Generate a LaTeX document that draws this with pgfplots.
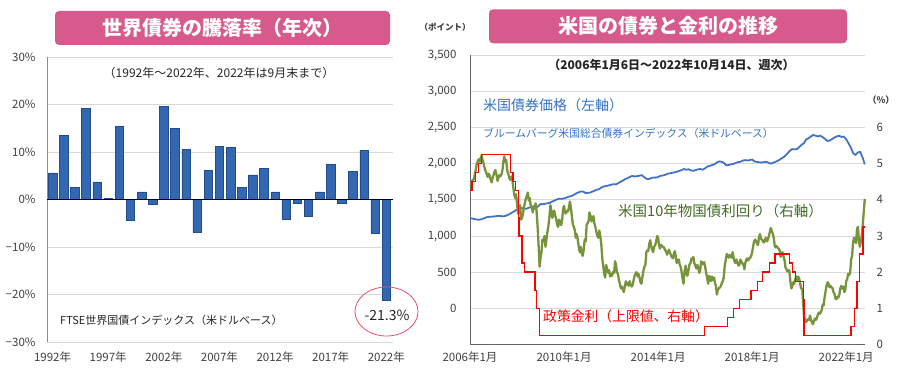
\documentclass[border=0pt]{standalone}
\usepackage{pgfplots}
\pgfplotsset{compat=1.18}
\usepackage{fontspec}
\setmainfont{Noto Sans CJK JP}
\definecolor{pinkc}{HTML}{D65A8C}
\definecolor{gridc}{HTML}{D9D9D9}
\definecolor{bardark}{HTML}{234D8A}
\definecolor{barfill}{HTML}{3467B2}
\definecolor{blueline}{HTML}{4472C4}
\definecolor{bluetext}{HTML}{3572C4}
\definecolor{greenl}{HTML}{77933C}
\definecolor{greentext}{HTML}{436B24}
\definecolor{redl}{HTML}{FF0000}
\definecolor{ellc}{HTML}{E8506A}
\definecolor{tickc}{HTML}{404040}
\begin{document}
\begin{tikzpicture}[x=1bp,y=1bp]
\useasboundingbox (0bp,0bp) rectangle (900bp,380bp);
% title boxes
\fill[pinkc, rounded corners=4bp] (55bp,335bp) rectangle (390bp,369bp);
\node[text=white, font=\fontsize{20bp}{24bp}\selectfont\bfseries] at (222.5bp,352bp) {世界債券の騰落率（年次）};
\fill[pinkc, rounded corners=4bp] (489bp,336.7bp) rectangle (847bp,370.7bp);
\node[text=white, font=\fontsize{20bp}{24bp}\selectfont\bfseries] at (668bp,353.7bp) {米国の債券と金利の推移};

% ---------- left chart ----------
\begin{axis}[at={(47bp,38bp)}, anchor=south west, scale only axis,
  width=346bp, height=285bp,
  xmin=1991.5, xmax=2022.6, ymin=-30, ymax=30,
  axis lines=left, axis line style={-},
  x axis line style={draw=gridc, line width=0.8pt},
  y axis line style={draw=black!45, line width=0.8pt},
  ytick={-30,-20,...,30},
  yticklabels={−30\%,−20\%,−10\%,0\%,10\%,20\%,30\%},
  xtick={1992,1997,2002,2007,2012,2017,2022},
  xticklabels={1992年,1997年,2002年,2007年,2012年,2017年,2022年},
  ymajorgrids, grid style={gridc, line width=0.8pt},
  major tick length=0,
  tick label style={font=\fontsize{11.5bp}{13bp}\selectfont, text=tickc},
  yticklabel style={xshift=-8bp},
  xticklabel style={yshift=-6bp},
  clip=false]
\addplot[ybar, bar width=8.5bp, draw=bardark, line width=0.6pt, fill=barfill]
coordinates {
(1992,5.6) (1993,13.5) (1994,2.5) (1995,19.2) (1996,3.7) (1997,0.2)
(1998,15.4) (1999,-4.4) (2000,1.6) (2001,-1.1) (2002,19.6) (2003,15.0)
(2004,10.5) (2005,-6.9) (2006,6.2) (2007,11.1) (2008,10.9) (2009,2.6)
(2010,5.2) (2011,6.5) (2012,1.6) (2013,-4.1) (2014,-0.8) (2015,-3.6)
(2016,1.6) (2017,7.4) (2018,-0.8) (2019,5.9) (2020,10.4) (2021,-7.1)
(2022,-21.3)};
\draw[black, line width=1.3pt] (axis cs:1991.5,0) -- (axis cs:2022.6,0);
\end{axis}
\node[font=\fontsize{12bp}{14bp}\selectfont, text=black!85] at (219bp,307.3bp) {（1992年～2022年、2022年は9月末まで）};
\node[anchor=west, font=\fontsize{11bp}{13bp}\selectfont, text=black!85, inner sep=0] at (60bp,59.3bp) {FTSE世界国債インデックス（米ドルベース）};
\draw[ellc, line width=0.8pt] (386.5bp,68.5bp) ellipse [x radius=31.5bp, y radius=24.5bp];
\node[font=\fontsize{14bp}{16bp}\selectfont, text=black!85] at (387bp,65bp) {-21.3\%};

% ---------- right chart: left axis ----------
\begin{axis}[at={(470bp,35.5bp)}, anchor=south west, scale only axis,
  width=395bp, height=289.5bp,
  xmin=2006, xmax=2022.8, ymin=-500, ymax=3500,
  axis lines=left, axis line style={-, draw=black!60, line width=0.8pt},
  ytick={0,500,1000,1500,2000,2500,3000,3500},
  yticklabels={0,500,{1,000},{1,500},{2,000},{2,500},{3,000},{3,500}},
  xtick={2006,2010,2014,2018,2022},
  xticklabels={2006年1月,2010年1月,2014年1月,2018年1月,2022年1月},
  ymajorgrids, grid style={gridc, line width=0.8pt},
  major tick length=0,
  tick label style={font=\fontsize{11.5bp}{13bp}\selectfont, text=tickc},
  yticklabel style={xshift=-10bp},
  xticklabel style={yshift=-3.5bp},
  clip=false]
\addplot[blueline, line width=1.8pt] coordinates {
(2006.0,1247) (2006.1,1240) (2006.2,1232) (2006.3,1226) (2006.4,1224) (2006.5,1232)
(2006.6,1245) (2006.7,1258) (2006.8,1264) (2006.9,1266) (2007.0,1268) (2007.1,1272)
(2007.2,1278) (2007.3,1275) (2007.4,1270) (2007.5,1276) (2007.6,1290) (2007.7,1305)
(2007.8,1325) (2007.9,1345) (2008.0,1365) (2008.1,1378) (2008.2,1385) (2008.3,1380)
(2008.4,1375) (2008.5,1390) (2008.6,1398) (2008.7,1392) (2008.8,1385) (2008.9,1410)
(2009.0,1440) (2009.1,1438) (2009.2,1445) (2009.3,1452) (2009.4,1458) (2009.5,1475)
(2009.6,1490) (2009.7,1505) (2009.8,1515) (2009.9,1512) (2010.0,1518) (2010.1,1530)
(2010.2,1543) (2010.3,1550) (2010.4,1565) (2010.5,1585) (2010.6,1600) (2010.7,1612)
(2010.8,1615) (2010.9,1595) (2011.0,1595) (2011.1,1598) (2011.2,1612) (2011.3,1625)
(2011.4,1640) (2011.5,1648) (2011.6,1672) (2011.7,1685) (2011.8,1690) (2011.9,1698)
(2012.0,1708) (2012.1,1715) (2012.2,1712) (2012.3,1728) (2012.4,1748) (2012.5,1765)
(2012.6,1785) (2012.7,1800) (2012.8,1815) (2012.9,1830) (2013.0,1822) (2013.1,1825)
(2013.2,1832) (2013.3,1840) (2013.4,1815) (2013.5,1790) (2013.6,1785) (2013.7,1798)
(2013.8,1808) (2013.9,1805) (2014.0,1815) (2014.1,1830) (2014.2,1835) (2014.3,1845)
(2014.4,1858) (2014.5,1865) (2014.6,1872) (2014.7,1878) (2014.8,1888) (2014.9,1898)
(2015.0,1910) (2015.1,1925) (2015.2,1915) (2015.3,1922) (2015.4,1905) (2015.5,1900)
(2015.6,1910) (2015.7,1920) (2015.8,1925) (2015.9,1915) (2016.0,1935) (2016.1,1960)
(2016.2,1968) (2016.3,1980) (2016.4,1990) (2016.5,2015) (2016.6,2030) (2016.7,2025)
(2016.8,2010) (2016.9,1975) (2017.0,1980) (2017.1,1988) (2017.2,1995) (2017.3,2008)
(2017.4,2020) (2017.5,2025) (2017.6,2040) (2017.7,2048) (2017.8,2042) (2017.9,2048)
(2018.0,2055) (2018.1,2030) (2018.2,2022) (2018.3,2018) (2018.4,2015) (2018.5,2020)
(2018.6,2025) (2018.7,2010) (2018.8,2000) (2018.9,2012) (2019.0,2025) (2019.1,2040)
(2019.2,2060) (2019.3,2080) (2019.4,2105) (2019.5,2140) (2019.6,2175) (2019.7,2200)
(2019.8,2195) (2019.9,2200) (2020.0,2225) (2020.1,2260) (2020.2,2280) (2020.3,2335)
(2020.4,2350) (2020.5,2375) (2020.6,2395) (2020.7,2385) (2020.8,2375) (2020.9,2385)
(2021.0,2365) (2021.1,2340) (2021.2,2312) (2021.3,2318) (2021.4,2338) (2021.5,2360)
(2021.6,2375) (2021.7,2385) (2021.8,2368) (2021.9,2372) (2022.0,2335) (2022.1,2280)
(2022.2,2220) (2022.3,2140) (2022.4,2120) (2022.5,2155) (2022.6,2160) (2022.7,2080)
(2022.79,1990)};
\end{axis}

% ---------- right chart: right axis ----------
\begin{axis}[at={(470bp,35.5bp)}, anchor=south west, scale only axis,
  width=395bp, height=289.5bp,
  xmin=2006, xmax=2022.8, ymin=0, ymax=8,
  axis y line*=right, axis x line=none,
  y axis line style={draw=none},
  ytick={0,1,2,3,4,5,6},
  yticklabels={0,1,2,3,4,5,6},
  major tick length=0,
  tick label style={font=\fontsize{11.5bp}{13bp}\selectfont, text=tickc},
  yticklabel style={xshift=8bp},
  clip=false]
\addplot[greenl, line width=2.3pt, line join=round] coordinates {
(2006.00,4.38) (2006.04,4.40) (2006.08,4.52) (2006.13,4.55) (2006.17,4.58) (2006.21,4.72)
(2006.25,4.85) (2006.29,5.00) (2006.33,5.07) (2006.38,5.12) (2006.42,5.05) (2006.46,5.15)
(2006.50,5.22) (2006.54,5.08) (2006.58,5.00) (2006.63,4.85) (2006.67,4.78) (2006.71,4.72)
(2006.75,4.63) (2006.79,4.72) (2006.83,4.68) (2006.88,4.55) (2006.92,4.48) (2006.96,4.60)
(2007.00,4.68) (2007.04,4.78) (2007.08,4.82) (2007.13,4.68) (2007.17,4.52) (2007.21,4.60)
(2007.25,4.68) (2007.29,4.65) (2007.33,4.68) (2007.38,4.82) (2007.42,5.05) (2007.46,5.20)
(2007.50,5.05) (2007.54,5.10) (2007.58,4.82) (2007.63,4.72) (2007.67,4.60) (2007.71,4.55)
(2007.75,4.62) (2007.79,4.65) (2007.83,4.40) (2007.88,4.15) (2007.92,4.05) (2007.96,4.15)
(2008.00,3.90) (2008.04,3.62) (2008.08,3.72) (2008.13,3.85) (2008.17,3.45) (2008.21,3.50)
(2008.25,3.60) (2008.29,3.78) (2008.33,3.90) (2008.38,4.05) (2008.42,4.10) (2008.46,4.20)
(2008.50,3.98) (2008.54,4.05) (2008.58,3.85) (2008.63,3.78) (2008.67,3.65) (2008.71,3.82)
(2008.75,3.75) (2008.79,3.90) (2008.83,3.70) (2008.88,3.20) (2008.92,2.70) (2008.96,2.15)
(2009.00,2.40) (2009.04,2.55) (2009.08,2.90) (2009.13,2.85) (2009.17,3.00) (2009.21,2.70)
(2009.25,2.90) (2009.29,3.10) (2009.33,3.25) (2009.38,3.55) (2009.42,3.85) (2009.46,3.70)
(2009.50,3.50) (2009.54,3.60) (2009.58,3.70) (2009.63,3.55) (2009.67,3.45) (2009.71,3.30)
(2009.75,3.25) (2009.79,3.45) (2009.83,3.38) (2009.88,3.30) (2009.92,3.45) (2009.96,3.75)
(2010.00,3.83) (2010.04,3.65) (2010.08,3.62) (2010.13,3.70) (2010.17,3.68) (2010.21,3.80)
(2010.25,3.95) (2010.29,3.78) (2010.33,3.55) (2010.38,3.30) (2010.42,3.25) (2010.46,3.15)
(2010.50,2.95) (2010.54,3.05) (2010.58,2.92) (2010.63,2.68) (2010.67,2.55) (2010.71,2.70)
(2010.75,2.52) (2010.79,2.45) (2010.83,2.58) (2010.88,2.90) (2010.92,2.85) (2010.96,3.30)
(2011.00,3.35) (2011.04,3.40) (2011.08,3.65) (2011.13,3.55) (2011.17,3.40) (2011.21,3.45)
(2011.25,3.55) (2011.29,3.35) (2011.33,3.25) (2011.38,3.10) (2011.42,3.00) (2011.46,2.95)
(2011.50,3.15) (2011.54,3.00) (2011.58,2.80) (2011.63,2.35) (2011.67,2.15) (2011.71,1.95)
(2011.75,1.85) (2011.79,2.20) (2011.83,2.10) (2011.88,1.98) (2011.92,2.05) (2011.96,1.88)
(2012.00,1.95) (2012.04,1.90) (2012.08,2.00) (2012.13,1.98) (2012.17,2.30) (2012.21,2.20)
(2012.25,2.00) (2012.29,1.95) (2012.33,1.80) (2012.38,1.65) (2012.42,1.55) (2012.46,1.60)
(2012.50,1.52) (2012.54,1.45) (2012.58,1.60) (2012.63,1.75) (2012.67,1.65) (2012.71,1.70)
(2012.75,1.62) (2012.79,1.75) (2012.83,1.65) (2012.88,1.60) (2012.92,1.65) (2012.96,1.78)
(2013.00,1.90) (2013.04,1.95) (2013.08,2.00) (2013.13,1.88) (2013.17,1.95) (2013.21,1.85)
(2013.25,1.72) (2013.29,1.68) (2013.33,1.85) (2013.38,2.05) (2013.42,2.15) (2013.46,2.20)
(2013.50,2.55) (2013.54,2.60) (2013.58,2.58) (2013.63,2.80) (2013.67,2.88) (2013.71,2.70)
(2013.75,2.62) (2013.79,2.55) (2013.83,2.70) (2013.88,2.75) (2013.92,2.85) (2013.96,3.00)
(2014.00,2.95) (2014.04,2.75) (2014.08,2.65) (2014.13,2.75) (2014.17,2.72) (2014.21,2.70)
(2014.25,2.68) (2014.29,2.62) (2014.33,2.58) (2014.38,2.48) (2014.42,2.55) (2014.46,2.62)
(2014.50,2.55) (2014.54,2.48) (2014.58,2.42) (2014.63,2.38) (2014.67,2.50) (2014.71,2.58)
(2014.75,2.45) (2014.79,2.25) (2014.83,2.32) (2014.88,2.35) (2014.92,2.20) (2014.96,2.15)
(2015.00,2.00) (2015.04,1.82) (2015.08,1.68) (2015.13,2.05) (2015.17,2.18) (2015.21,1.95)
(2015.25,1.90) (2015.29,2.05) (2015.33,2.20) (2015.38,2.25) (2015.42,2.38) (2015.46,2.35)
(2015.50,2.42) (2015.54,2.25) (2015.58,2.18) (2015.63,2.10) (2015.67,2.20) (2015.71,2.10)
(2015.75,1.98) (2015.79,2.05) (2015.83,2.30) (2015.88,2.25) (2015.92,2.22) (2015.96,2.28)
(2016.00,2.15) (2016.04,2.00) (2016.08,1.85) (2016.13,1.68) (2016.17,1.90) (2016.21,1.85)
(2016.25,1.75) (2016.29,1.88) (2016.33,1.78) (2016.38,1.85) (2016.42,1.70) (2016.46,1.62)
(2016.50,1.38) (2016.54,1.50) (2016.58,1.55) (2016.63,1.58) (2016.67,1.62) (2016.71,1.70)
(2016.75,1.75) (2016.79,1.85) (2016.83,2.15) (2016.88,2.35) (2016.92,2.50) (2016.96,2.45)
(2017.00,2.40) (2017.04,2.48) (2017.08,2.42) (2017.13,2.40) (2017.17,2.55) (2017.21,2.40)
(2017.25,2.30) (2017.29,2.25) (2017.33,2.35) (2017.38,2.25) (2017.42,2.18) (2017.46,2.20)
(2017.50,2.35) (2017.54,2.30) (2017.58,2.25) (2017.63,2.20) (2017.67,2.08) (2017.71,2.25)
(2017.75,2.35) (2017.79,2.38) (2017.83,2.32) (2017.88,2.38) (2017.92,2.40) (2017.96,2.45)
(2018.00,2.55) (2018.04,2.70) (2018.08,2.85) (2018.13,2.90) (2018.17,2.85) (2018.21,2.78)
(2018.25,2.75) (2018.29,2.95) (2018.33,3.05) (2018.38,2.92) (2018.42,2.90) (2018.46,2.85)
(2018.50,2.82) (2018.54,2.88) (2018.58,2.95) (2018.63,2.85) (2018.67,2.90) (2018.71,3.00)
(2018.75,3.10) (2018.79,3.22) (2018.83,3.15) (2018.88,3.05) (2018.92,2.95) (2018.96,2.72)
(2019.00,2.68) (2019.04,2.72) (2019.08,2.68) (2019.13,2.65) (2019.17,2.60) (2019.21,2.42)
(2019.25,2.50) (2019.29,2.55) (2019.33,2.45) (2019.38,2.32) (2019.42,2.12) (2019.46,2.08)
(2019.50,2.02) (2019.54,2.05) (2019.58,2.05) (2019.63,1.72) (2019.67,1.55) (2019.71,1.62)
(2019.75,1.72) (2019.79,1.68) (2019.83,1.80) (2019.88,1.88) (2019.92,1.78) (2019.96,1.88)
(2020.00,1.82) (2020.04,1.70) (2020.08,1.55) (2020.13,1.55) (2020.17,1.15) (2020.21,0.75)
(2020.25,0.68) (2020.29,0.62) (2020.33,0.65) (2020.38,0.70) (2020.42,0.68) (2020.46,0.80)
(2020.50,0.68) (2020.54,0.62) (2020.58,0.56) (2020.63,0.65) (2020.67,0.72) (2020.71,0.68)
(2020.75,0.72) (2020.79,0.82) (2020.83,0.88) (2020.88,0.85) (2020.92,0.90) (2020.96,0.95)
(2021.00,1.10) (2021.04,1.08) (2021.08,1.30) (2021.13,1.50) (2021.17,1.65) (2021.21,1.72)
(2021.25,1.68) (2021.29,1.58) (2021.33,1.62) (2021.38,1.58) (2021.42,1.55) (2021.46,1.45)
(2021.50,1.40) (2021.54,1.28) (2021.58,1.25) (2021.63,1.32) (2021.67,1.30) (2021.71,1.38)
(2021.75,1.55) (2021.79,1.62) (2021.83,1.55) (2021.88,1.60) (2021.92,1.45) (2021.96,1.50)
(2022.00,1.75) (2022.04,1.80) (2022.08,1.95) (2022.13,1.92) (2022.17,2.00) (2022.21,2.35)
(2022.25,2.45) (2022.29,2.80) (2022.33,2.95) (2022.38,2.90) (2022.42,2.80) (2022.46,3.20)
(2022.50,3.25) (2022.54,2.88) (2022.58,2.70) (2022.63,2.85) (2022.67,3.05) (2022.71,3.35)
(2022.75,3.70) (2022.79,4.02)};
\addplot[redl, line width=1.3pt, mark=none] coordinates {
(2006.00,4.25) (2006.08,4.25) (2006.08,4.50) (2006.24,4.50) (2006.24,4.75)
(2006.36,4.75) (2006.36,5.00) (2006.49,5.00) (2006.49,5.25) (2007.71,5.25)
(2007.71,4.75) (2007.83,4.75) (2007.83,4.50) (2007.94,4.50) (2007.94,4.25)
(2008.06,4.25) (2008.06,3.50) (2008.08,3.50) (2008.08,3.00) (2008.21,3.00)
(2008.21,2.25) (2008.33,2.25) (2008.33,2.00) (2008.77,2.00) (2008.77,1.50)
(2008.82,1.50) (2008.82,1.00) (2008.96,1.00) (2008.96,0.25) (2015.96,0.25)
(2015.96,0.50) (2016.95,0.50) (2016.95,0.75) (2017.20,0.75) (2017.20,1.00)
(2017.45,1.00) (2017.45,1.25) (2017.95,1.25) (2017.95,1.50) (2018.22,1.50)
(2018.22,1.75) (2018.45,1.75) (2018.45,2.00) (2018.73,2.00) (2018.73,2.25)
(2018.97,2.25) (2018.97,2.50) (2019.58,2.50) (2019.58,2.25) (2019.71,2.25)
(2019.71,2.00) (2019.83,2.00) (2019.83,1.75) (2020.17,1.75) (2020.17,1.25)
(2020.21,1.25) (2020.21,0.25) (2022.21,0.25) (2022.21,0.50) (2022.34,0.50)
(2022.34,1.00) (2022.46,1.00) (2022.46,1.75) (2022.57,1.75) (2022.57,2.50)
(2022.72,2.50) (2022.72,3.25) (2022.79,3.25)};
\end{axis}
% right chart texts
\node[font=\fontsize{8.5bp}{10bp}\selectfont\bfseries, text=tickc] at (445bp,352.7bp) {（ポイント）};
\node[font=\fontsize{9bp}{10bp}\selectfont\bfseries, text=tickc] at (881bp,280bp) {（\%）};
\node[font=\fontsize{12bp}{14bp}\selectfont\bfseries, text=black!85] at (671.5bp,315bp) {（2006年1月6日～2022年10月14日、週次）};
\node[anchor=west, inner sep=0, font=\fontsize{14bp}{16bp}\selectfont, text=bluetext] at (483bp,275bp) {米国債券価格（左軸）};
\node[anchor=west, inner sep=0, font=\fontsize{10.8bp}{13bp}\selectfont, text=bluetext] at (483bp,246.7bp) {ブルームバーグ米国総合債券インデックス（米ドルベース）};
\node[anchor=west, inner sep=0, font=\fontsize{14.5bp}{16bp}\selectfont, text=greentext] at (618bp,169.3bp) {米国10年物国債利回り（右軸）};
\node[anchor=west, inner sep=0, font=\fontsize{13.8bp}{16bp}\selectfont, text=redl] at (543bp,64bp) {政策金利（上限値、右軸）};
\end{tikzpicture}
\end{document}
